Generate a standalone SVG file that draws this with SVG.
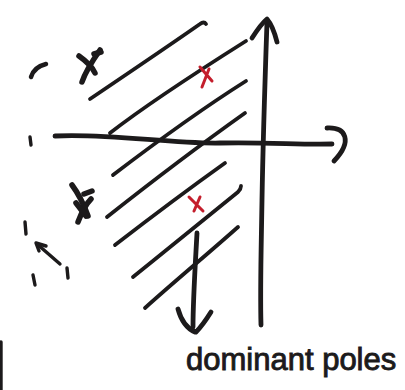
<svg xmlns="http://www.w3.org/2000/svg" width="405" height="390" viewBox="0 0 405 390">
<style>
.ink{fill:none;stroke:#1c1a1b;stroke-linecap:round;stroke-linejoin:round}
.hatch{stroke-width:3.8}
.axis{stroke-width:4.8}
.mark{stroke-width:5.5}
.dash{stroke-width:3.4}
.red{fill:none;stroke:#c41e2c;stroke-width:3;stroke-linecap:round}
.lbl{font-family:"Liberation Sans",Arial,sans-serif;font-size:31px;fill:#1c1a1b;stroke:#1c1a1b;stroke-width:0.9}
</style>
<rect width="405" height="390" fill="#ffffff"/>
<g id="hatching" class="ink hatch">
<path d="M90,99 C130,72 170,45 200,24 Q204,21 206,24"/>
<path d="M110,133 C150,102 200,70 246,41"/>
<path d="M113,175 C155,143 200,110 246,81"/>
<path d="M107,217 C150,183 200,145 245,113"/>
<path d="M115,245 C150,218 190,188 225,163"/>
<path d="M133,277 C170,247 210,215 238,192 Q241,189 241,186"/>
<path d="M145,308 C175,281 210,252 238,227"/>
</g>
<g id="axes" class="ink axis">
<path d="M55,136 C110,133 170,144 220,143 S300,145 332,144"/>
<path d="M327,128 C346,127 353,141 334,161"/>
<path d="M267,22 C265,80 263,140 262,200 S260,290 261,325"/>
<path d="M252,38 Q261,24 267,19 Q273,26 277,42"/>
</g>
<g id="poles-red">
<path class="red" d="M200,67 L212,81 M209,69 L202,87"/>
<path class="red" d="M189,197 L203,211 M200,197 L194,211"/>
</g>
<g id="poles-black" class="ink mark">
<path d="M100,50 C93,60 86,70 82,82"/>
<path d="M79,56 C86,61 92,66 95,73"/>
<path d="M94,54 L101,52"/>
<path d="M72,185 C78,193 84,205 88,216"/>
<path d="M91,199 C85,205 81,214 78,222"/>
<path d="M76,203 L86,216"/>
<path d="M84,194 L92,191"/>
</g>
<g id="circle-arc" class="ink dash">
<path d="M31,77 Q34,67 46,64" stroke-width="4.5"/>
<path d="M30,137 L31,145"/>
<path d="M25,222 L26,234"/>
<path d="M37,244 L60,264"/>
<path d="M36,243 L46,246 M36,243 L39,251"/>
<path d="M33,275 L35,285"/>
<path d="M67,268 L68,278"/>
</g>
<g id="dominant-arrow" class="ink axis">
<path d="M197,233 C195,270 193,300 193,327"/>
<path d="M178,309 C181,320 186,328 195,332 M211,312 C206,320 201,327 196,332"/>
</g>
<g id="label">
<text class="lbl" x="186" y="370">dominant poles</text>
</g>
<g id="edge" class="ink dash">
<path d="M1,342 L1,390"/>
</g>
</svg>
